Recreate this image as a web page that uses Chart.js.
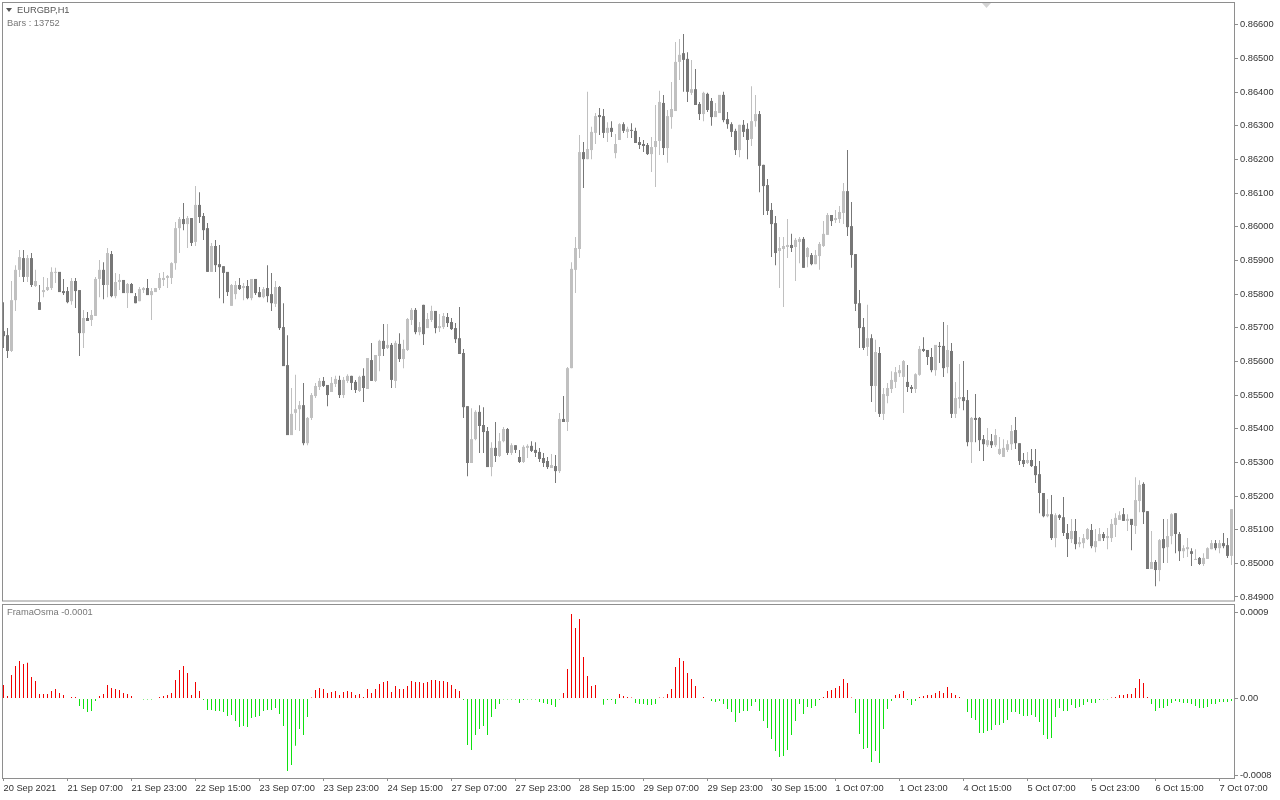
<!DOCTYPE html>
<html>
<head>
<meta charset="UTF-8">
<title>EURGBP,H1</title>
<script src="https://cdn.jsdelivr.net/npm/chart.js"></script>
<style>
  body { margin: 0; background: #ffffff; }
  #wrap { position: relative; width: 1280px; height: 800px; }
  canvas { position: absolute; left: 0; }
  #priceChart { top: 0; }
  #oscChart { top: 602px; }
</style>
</head>
<body>
<div id="wrap">
  <canvas id="priceChart" width="1280" height="602"></canvas>
  <canvas id="oscChart" width="1280" height="198"></canvas>
</div>
<script>
// EURGBP H1 candles, 20 Sep 15:00 -> 7 Oct 2021
var opens = [
0.85690,0.85678,0.85631,0.85782,0.85872,0.85907,0.85851,0.85907,0.85824,0.85776,
0.85806,0.85812,0.85818,0.85863,0.85866,0.85809,0.85809,0.85779,0.85839,0.85812,
0.85684,0.85729,0.85723,0.85735,0.85845,0.85872,0.85827,0.85919,0.85794,0.85836,
0.85842,0.85803,0.85830,0.85794,0.85779,0.85812,0.85818,0.85797,0.85806,0.85818,
0.85842,0.85848,0.85848,0.85892,0.85996,0.86023,0.86008,0.86026,0.85955,0.86065,
0.86032,0.85996,0.85866,0.85943,0.85889,0.85883,0.85866,0.85765,0.85800,0.85827,
0.85818,0.85824,0.85788,0.85845,0.85806,0.85791,0.85818,0.85800,0.85771,0.85821,
0.85702,0.85589,0.85381,0.85447,0.85458,0.85470,0.85357,0.85432,0.85497,0.85524,
0.85542,0.85530,0.85509,0.85533,0.85545,0.85500,0.85542,0.85557,0.85539,0.85512,
0.85557,0.85518,0.85604,0.85542,0.85616,0.85661,0.85640,0.85649,0.85542,0.85652,
0.85607,0.85634,0.85723,0.85753,0.85687,0.85768,0.85699,0.85723,0.85750,0.85699,
0.85702,0.85732,0.85717,0.85699,0.85669,0.85625,0.85467,0.85298,0.85369,0.85450,
0.85411,0.85393,0.85286,0.85343,0.85319,0.85363,0.85399,0.85328,0.85351,0.85316,
0.85301,0.85343,0.85349,0.85337,0.85331,0.85313,0.85304,0.85283,0.85289,0.85274,
0.85429,0.85420,0.85580,0.85872,0.85934,0.86222,0.86201,0.86228,0.86279,0.86332,
0.86329,0.86279,0.86294,0.86219,0.86258,0.86305,0.86282,0.86288,0.86285,0.86252,
0.86246,0.86243,0.86216,0.86237,0.86255,0.86368,0.86234,0.86326,0.86344,0.86490,
0.86516,0.86499,0.86398,0.86409,0.86365,0.86335,0.86395,0.86374,0.86326,0.86338,
0.86392,0.86320,0.86305,0.86285,0.86228,0.86303,0.86291,0.86261,0.86314,0.86335,
0.86184,0.86124,0.86050,0.86011,0.85928,0.85934,0.85940,0.85946,0.85940,0.85955,
0.85964,0.85910,0.85916,0.85889,0.85913,0.85943,0.85976,0.86035,0.86020,0.86023,
0.86041,0.86106,0.86002,0.85919,0.85773,0.85702,0.85643,0.85669,0.85527,0.85625,
0.85444,0.85497,0.85518,0.85539,0.85565,0.85554,0.85539,0.85524,0.85518,0.85560,
0.85637,0.85634,0.85613,0.85574,0.85646,0.85646,0.85583,0.85631,0.85444,0.85488,
0.85494,0.85485,0.85360,0.85432,0.85432,0.85369,0.85351,0.85363,0.85351,0.85325,
0.85316,0.85337,0.85354,0.85396,0.85357,0.85307,0.85298,0.85307,0.85289,0.85265,
0.85209,0.85140,0.85146,0.85075,0.85143,0.85137,0.85090,0.85072,0.85096,0.85057,
0.85060,0.85072,0.85099,0.85048,0.85066,0.85087,0.85075,0.85075,0.85114,0.85129,
0.85146,0.85126,0.85132,0.85111,0.85185,0.85236,0.85155,0.84983,0.85004,0.84980,
0.85072,0.85048,0.85081,0.85149,0.85087,0.85036,0.85042,0.85036,0.85010,0.85016,
0.84998,0.85013,0.85042,0.85060,0.85045,0.85060,0.85054,0.85022
];
var highs = [
0.85776,0.85699,0.85839,0.85886,0.85931,0.85931,0.85916,0.85922,0.85872,0.85827,
0.85851,0.85848,0.85880,0.85878,0.85866,0.85845,0.85821,0.85848,0.85848,0.85812,
0.85753,0.85747,0.85753,0.85851,0.85901,0.85895,0.85937,0.85928,0.85863,0.85860,
0.85842,0.85833,0.85833,0.85803,0.85821,0.85821,0.85845,0.85818,0.85818,0.85863,
0.85866,0.85857,0.85895,0.86014,0.86029,0.86071,0.86032,0.86026,0.86121,0.86103,
0.86041,0.86011,0.85952,0.85961,0.85946,0.85883,0.85866,0.85830,0.85839,0.85848,
0.85833,0.85842,0.85845,0.85845,0.85821,0.85821,0.85886,0.85863,0.85839,0.85824,
0.85773,0.85678,0.85521,0.85560,0.85482,0.85536,0.85435,0.85506,0.85536,0.85551,
0.85554,0.85530,0.85554,0.85557,0.85557,0.85554,0.85562,0.85557,0.85545,0.85557,
0.85580,0.85610,0.85655,0.85619,0.85664,0.85711,0.85711,0.85655,0.85661,0.85684,
0.85664,0.85729,0.85759,0.85759,0.85717,0.85768,0.85744,0.85765,0.85750,0.85741,
0.85744,0.85744,0.85729,0.85714,0.85762,0.85637,0.85467,0.85461,0.85455,0.85470,
0.85464,0.85405,0.85360,0.85420,0.85387,0.85405,0.85402,0.85357,0.85351,0.85337,
0.85351,0.85354,0.85363,0.85360,0.85343,0.85328,0.85316,0.85325,0.85322,0.85447,
0.85497,0.85583,0.85895,0.85970,0.86273,0.86252,0.86401,0.86297,0.86338,0.86353,
0.86350,0.86311,0.86314,0.86276,0.86308,0.86311,0.86297,0.86308,0.86294,0.86267,
0.86258,0.86249,0.86267,0.86362,0.86404,0.86392,0.86347,0.86430,0.86549,0.86558,
0.86573,0.86519,0.86496,0.86469,0.86371,0.86401,0.86398,0.86383,0.86368,0.86392,
0.86401,0.86341,0.86311,0.86291,0.86303,0.86317,0.86308,0.86418,0.86392,0.86344,
0.86184,0.86142,0.86071,0.86032,0.85970,0.85970,0.86023,0.85979,0.85967,0.85970,
0.85970,0.85940,0.85922,0.85931,0.85955,0.86017,0.86041,0.86035,0.86050,0.86062,
0.86130,0.86228,0.86074,0.85919,0.85812,0.85729,0.85768,0.85681,0.85664,0.85643,
0.85521,0.85536,0.85571,0.85583,0.85589,0.85604,0.85589,0.85530,0.85565,0.85646,
0.85672,0.85634,0.85640,0.85649,0.85658,0.85717,0.85708,0.85655,0.85539,0.85592,
0.85601,0.85515,0.85435,0.85503,0.85435,0.85381,0.85402,0.85384,0.85399,0.85375,
0.85369,0.85366,0.85411,0.85435,0.85357,0.85328,0.85331,0.85340,0.85340,0.85304,
0.85209,0.85191,0.85203,0.85149,0.85146,0.85197,0.85117,0.85132,0.85132,0.85078,
0.85087,0.85105,0.85117,0.85102,0.85105,0.85093,0.85105,0.85132,0.85149,0.85155,
0.85164,0.85146,0.85132,0.85256,0.85247,0.85241,0.85155,0.85096,0.85010,0.85072,
0.85132,0.85132,0.85149,0.85149,0.85093,0.85054,0.85075,0.85045,0.85042,0.85019,
0.85030,0.85048,0.85069,0.85069,0.85069,0.85090,0.85075,0.85161
];
var lows = [
0.85640,0.85610,0.85628,0.85750,0.85851,0.85836,0.85836,0.85821,0.85821,0.85753,
0.85791,0.85809,0.85812,0.85833,0.85806,0.85797,0.85773,0.85768,0.85759,0.85616,
0.85640,0.85720,0.85705,0.85735,0.85791,0.85785,0.85791,0.85791,0.85788,0.85812,
0.85803,0.85759,0.85803,0.85773,0.85779,0.85803,0.85797,0.85723,0.85806,0.85812,
0.85824,0.85818,0.85830,0.85872,0.85922,0.85990,0.85937,0.85943,0.85943,0.86011,
0.85961,0.85866,0.85866,0.85866,0.85788,0.85773,0.85794,0.85765,0.85785,0.85812,
0.85782,0.85785,0.85782,0.85797,0.85791,0.85788,0.85776,0.85750,0.85762,0.85693,
0.85586,0.85381,0.85381,0.85396,0.85393,0.85351,0.85351,0.85426,0.85491,0.85515,
0.85524,0.85467,0.85509,0.85524,0.85491,0.85491,0.85536,0.85515,0.85506,0.85509,
0.85479,0.85518,0.85542,0.85539,0.85571,0.85616,0.85637,0.85521,0.85521,0.85598,
0.85580,0.85631,0.85708,0.85681,0.85678,0.85649,0.85699,0.85717,0.85684,0.85687,
0.85696,0.85702,0.85693,0.85655,0.85622,0.85432,0.85259,0.85298,0.85366,0.85328,
0.85328,0.85286,0.85259,0.85301,0.85316,0.85360,0.85322,0.85322,0.85328,0.85298,
0.85298,0.85313,0.85331,0.85316,0.85301,0.85286,0.85280,0.85283,0.85239,0.85268,
0.85420,0.85393,0.85580,0.85803,0.85907,0.86115,0.86201,0.86201,0.86246,0.86273,
0.86264,0.86252,0.86267,0.86204,0.86258,0.86279,0.86264,0.86264,0.86249,0.86231,
0.86222,0.86213,0.86163,0.86118,0.86213,0.86213,0.86190,0.86291,0.86344,0.86436,
0.86401,0.86371,0.86392,0.86362,0.86317,0.86314,0.86341,0.86300,0.86326,0.86338,
0.86311,0.86291,0.86267,0.86213,0.86207,0.86267,0.86201,0.86240,0.86297,0.86103,
0.86035,0.86035,0.85910,0.85886,0.85818,0.85762,0.85907,0.85925,0.85839,0.85892,
0.85878,0.85880,0.85886,0.85889,0.85872,0.85940,0.85976,0.86002,0.86011,0.86011,
0.86008,0.85973,0.85878,0.85750,0.85640,0.85634,0.85616,0.85479,0.85450,0.85435,
0.85426,0.85476,0.85506,0.85521,0.85554,0.85447,0.85509,0.85506,0.85506,0.85557,
0.85628,0.85589,0.85568,0.85557,0.85595,0.85554,0.85565,0.85432,0.85432,0.85461,
0.85455,0.85348,0.85298,0.85360,0.85334,0.85304,0.85346,0.85343,0.85346,0.85322,
0.85316,0.85331,0.85337,0.85340,0.85292,0.85286,0.85295,0.85286,0.85239,0.85149,
0.85137,0.85137,0.85069,0.85048,0.85129,0.85081,0.85019,0.85060,0.85042,0.85048,
0.85045,0.85069,0.85045,0.85033,0.85066,0.85066,0.85042,0.85063,0.85078,0.85129,
0.85126,0.85096,0.85039,0.85087,0.85152,0.85117,0.84983,0.84983,0.84932,0.84947,
0.85001,0.85001,0.85057,0.85030,0.85007,0.85016,0.85019,0.84992,0.85010,0.84995,
0.84992,0.85013,0.85042,0.85039,0.85030,0.85045,0.85016,0.84995
];
var closes = [
0.85675,0.85631,0.85782,0.85872,0.85910,0.85851,0.85907,0.85827,0.85839,0.85753,
0.85812,0.85821,0.85866,0.85866,0.85806,0.85803,0.85776,0.85839,0.85809,0.85684,
0.85729,0.85720,0.85738,0.85845,0.85872,0.85827,0.85922,0.85794,0.85836,0.85842,
0.85803,0.85830,0.85803,0.85773,0.85815,0.85818,0.85797,0.85809,0.85818,0.85848,
0.85848,0.85854,0.85892,0.85996,0.86023,0.86008,0.86026,0.85952,0.86065,0.86029,
0.85990,0.85866,0.85943,0.85886,0.85880,0.85863,0.85806,0.85827,0.85827,0.85815,
0.85824,0.85788,0.85845,0.85803,0.85791,0.85815,0.85794,0.85773,0.85821,0.85699,
0.85586,0.85381,0.85444,0.85458,0.85470,0.85357,0.85432,0.85500,0.85527,0.85542,
0.85527,0.85500,0.85536,0.85548,0.85500,0.85545,0.85557,0.85536,0.85515,0.85554,
0.85521,0.85610,0.85542,0.85619,0.85661,0.85637,0.85649,0.85545,0.85655,0.85607,
0.85637,0.85726,0.85753,0.85687,0.85702,0.85681,0.85726,0.85750,0.85699,0.85705,
0.85735,0.85714,0.85696,0.85666,0.85622,0.85464,0.85298,0.85369,0.85450,0.85408,
0.85390,0.85286,0.85343,0.85319,0.85363,0.85399,0.85328,0.85351,0.85337,0.85301,
0.85346,0.85349,0.85334,0.85328,0.85310,0.85298,0.85286,0.85292,0.85274,0.85429,
0.85420,0.85580,0.85875,0.85937,0.86222,0.86201,0.86231,0.86282,0.86329,0.86326,
0.86279,0.86294,0.86282,0.86246,0.86305,0.86285,0.86291,0.86285,0.86249,0.86243,
0.86240,0.86216,0.86237,0.86255,0.86371,0.86234,0.86329,0.86350,0.86490,0.86511,
0.86496,0.86401,0.86409,0.86362,0.86335,0.86398,0.86347,0.86326,0.86344,0.86392,
0.86317,0.86305,0.86282,0.86228,0.86303,0.86282,0.86258,0.86314,0.86335,0.86181,
0.86121,0.86047,0.86008,0.85922,0.85937,0.85943,0.85946,0.85937,0.85961,0.85964,
0.85878,0.85937,0.85889,0.85916,0.85949,0.85979,0.86035,0.86017,0.86026,0.86044,
0.86106,0.85999,0.85916,0.85771,0.85699,0.85640,0.85669,0.85527,0.85628,0.85444,
0.85503,0.85521,0.85545,0.85568,0.85574,0.85601,0.85524,0.85518,0.85562,0.85637,
0.85631,0.85613,0.85574,0.85649,0.85643,0.85580,0.85634,0.85444,0.85491,0.85494,
0.85482,0.85360,0.85432,0.85426,0.85366,0.85354,0.85366,0.85351,0.85381,0.85340,
0.85343,0.85354,0.85393,0.85357,0.85304,0.85295,0.85307,0.85289,0.85262,0.85209,
0.85140,0.85146,0.85075,0.85143,0.85135,0.85090,0.85072,0.85096,0.85057,0.85063,
0.85075,0.85102,0.85051,0.85066,0.85087,0.85075,0.85081,0.85117,0.85135,0.85143,
0.85126,0.85132,0.85114,0.85188,0.85233,0.85152,0.84983,0.85004,0.84980,0.85069,
0.85045,0.85081,0.85146,0.85087,0.85036,0.85045,0.85048,0.85028,0.85013,0.84998,
0.85016,0.85045,0.85060,0.85045,0.85060,0.85051,0.85022,0.85161
];

// FramaOsma histogram, one value per bar
var osma = [
1.41e-4,0.26e-4,2.45e-4,3.39e-4,3.91e-4,3.59e-4,3.73e-4,2.24e-4,1.82e-4,0.47e-4,
0.47e-4,0.47e-4,0.78e-4,0.99e-4,0.57e-4,0.36e-4,0,0.16e-4,0.16e-4,-0.78e-4,
-1.09e-4,-1.41e-4,-1.30e-4,-0.26e-4,0.26e-4,0.47e-4,1.41e-4,1.09e-4,0.99e-4,0.89e-4,
0.57e-4,0.47e-4,0.26e-4,0,0,-0.05e-4,-0.05e-4,-0.05e-4,0,0.16e-4,
0.26e-4,0.36e-4,0.57e-4,1.93e-4,2.97e-4,3.39e-4,2.66e-4,0.36e-4,1.72e-4,0.78e-4,
-0.16e-4,-1.20e-4,-1.20e-4,-1.30e-4,-1.30e-4,-1.41e-4,-1.82e-4,-1.72e-4,-2.34e-4,-2.97e-4,
-2.86e-4,-2.97e-4,-2.03e-4,-1.93e-4,-1.82e-4,-1.30e-4,-1.20e-4,-1.20e-4,-0.99e-4,-1.61e-4,
-2.86e-4,-7.55e-4,-6.93e-4,-4.91e-4,-3.18e-4,-3.80e-4,-1.93e-4,0.09e-4,0.89e-4,1.09e-4,
0.99e-4,0.57e-4,0.68e-4,0.78e-4,0.36e-4,0.68e-4,0.78e-4,0.68e-4,0.36e-4,0.47e-4,
0.16e-4,0.99e-4,0.57e-4,0.99e-4,1.51e-4,1.72e-4,1.82e-4,0.68e-4,1.30e-4,0.99e-4,
0.99e-4,1.30e-4,1.82e-4,1.72e-4,1.72e-4,1.61e-4,1.72e-4,1.93e-4,1.93e-4,1.82e-4,
1.82e-4,1.72e-4,1.41e-4,0.99e-4,0.78e-4,-0.16e-4,-4.84e-4,-5.36e-4,-3.80e-4,-3.18e-4,
-2.86e-4,-3.80e-4,-1.93e-4,-1.09e-4,-0.57e-4,-0.09e-4,-0.09e-4,-0.09e-4,-0.09e-4,-0.47e-4,
-0.16e-4,-0.09e-4,-0.09e-4,-0.09e-4,-0.36e-4,-0.47e-4,-0.57e-4,-0.68e-4,-0.89e-4,-0.09e-4,
0.57e-4,3.07e-4,8.80e-4,7.34e-4,8.28e-4,4.32e-4,2.34e-4,1.30e-4,1.41e-4,0,
-0.64e-4,-0.16e-4,-0.16e-4,-0.57e-4,0.47e-4,0.26e-4,0.16e-4,0.05e-4,-0.47e-4,-0.57e-4,
-0.57e-4,-0.68e-4,-0.68e-4,-0.57e-4,0.05e-4,0.05e-4,0.47e-4,0.99e-4,3.28e-4,4.22e-4,
3.91e-4,2.66e-4,2.03e-4,1.30e-4,0,0.16e-4,0,-0.26e-4,-0.36e-4,-0.26e-4,
-0.57e-4,-1.09e-4,-1.41e-4,-2.45e-4,-1.51e-4,-1.30e-4,-1.30e-4,-0.78e-4,-0.36e-4,-1.30e-4,
-2.34e-4,-3.07e-4,-4.22e-4,-5.47e-4,-6.09e-4,-5.99e-4,-5.36e-4,-3.80e-4,-2.34e-4,-0.57e-4,
-1.61e-4,-0.89e-4,-0.99e-4,-0.78e-4,-0.16e-4,0.16e-4,0.78e-4,0.89e-4,1.09e-4,1.30e-4,
2.03e-4,1.61e-4,0.05e-4,-1.51e-4,-3.70e-4,-5.26e-4,-5.16e-4,-6.61e-4,-5.47e-4,-6.72e-4,
-3.18e-4,-1.09e-4,-0.26e-4,0.36e-4,0.47e-4,0.78e-4,-0.16e-4,-0.68e-4,-0.26e-4,0.16e-4,
0.26e-4,0.36e-4,0.36e-4,0.57e-4,0.78e-4,0.57e-4,1.20e-4,0.57e-4,0.36e-4,0.16e-4,
0,-1.41e-4,-2.03e-4,-2.24e-4,-3.59e-4,-3.59e-4,-3.39e-4,-3.28e-4,-2.76e-4,-2.76e-4,
-2.55e-4,-2.24e-4,-1.41e-4,-1.41e-4,-1.61e-4,-1.82e-4,-1.82e-4,-1.72e-4,-1.93e-4,-2.45e-4,
-3.80e-4,-4.22e-4,-4.11e-4,-1.93e-4,-0.99e-4,-1.30e-4,-1.30e-4,-0.68e-4,-0.99e-4,-0.89e-4,
-0.68e-4,-0.36e-4,-0.47e-4,-0.47e-4,-0.16e-4,-0.09e-4,-0.05e-4,0.05e-4,0.16e-4,0.36e-4,
0.36e-4,0.47e-4,0.47e-4,1.09e-4,2.03e-4,1.61e-4,0.16e-4,-0.57e-4,-1.30e-4,-0.99e-4,
-0.99e-4,-0.78e-4,-0.47e-4,-0.26e-4,-0.36e-4,-0.47e-4,-0.47e-4,-0.57e-4,-0.78e-4,-0.99e-4,
-0.99e-4,-0.89e-4,-0.57e-4,-0.57e-4,-0.36e-4,-0.36e-4,-0.36e-4,-0.26e-4
];

// axis ticks
var priceTicks = [0.849,0.850,0.851,0.852,0.853,0.854,0.855,0.856,0.857,0.858,
                  0.859,0.860,0.861,0.862,0.863,0.864,0.865,0.866];
var osmaTicks = [0.0009, 0, -0.0008];
var osmaTickLabels = ['0.0009', '0.00', '-0.0008'];
var timeTickBars = [0,16,32,48,64,80,96,112,128,144,160,176,192,208,224,240,256,272,288,304];
var timeLabels = ['20 Sep 2021','21 Sep 07:00','21 Sep 23:00','22 Sep 15:00','23 Sep 07:00',
                  '23 Sep 23:00','24 Sep 15:00','27 Sep 07:00','27 Sep 23:00','28 Sep 15:00',
                  '29 Sep 07:00','29 Sep 23:00','30 Sep 15:00','1 Oct 07:00','1 Oct 23:00',
                  '4 Oct 15:00','5 Oct 07:00','5 Oct 23:00','6 Oct 15:00','7 Oct 07:00'];

var upColor = '#c0c0c0';
var downColor = '#777777';
var axisFont = { family: 'Liberation Sans', size: 9.3 };
var textColor = '#333333';
var frameColor = '#8e8e8e';

Chart.defaults.animation = false;
Chart.defaults.events = [];
Chart.defaults.font.family = 'Liberation Sans';

function candleColor(c) {
    var i = c.dataIndex;
    return closes[i] >= opens[i] ? upColor : downColor;
}

var xMin = -0.375, xMax = 307.875;

function fixYAxis(scale) {
    scale.width = 45;
    scale.paddingTop = 0;
    scale.paddingBottom = 0;
}

// frame + captions of the price pane
var priceFrame = {
    id: 'priceFrame',
    afterDraw: function(chart) {
        var ctx = chart.ctx, a = chart.chartArea;
        ctx.save();
        ctx.strokeStyle = frameColor;
        ctx.lineWidth = 1;
        ctx.strokeRect(a.left + 0.5, a.top + 0.5, a.right - a.left - 1, a.bottom - a.top - 0.5);
        // small down triangle before the symbol
        ctx.fillStyle = '#555';
        ctx.beginPath();
        ctx.moveTo(6, 8); ctx.lineTo(12, 8); ctx.lineTo(9, 12); ctx.closePath();
        ctx.fill();
        ctx.font = '9.3px "Liberation Sans"';
        ctx.textBaseline = 'middle';
        ctx.fillStyle = '#555';
        ctx.fillText('EURGBP,H1', 17, 10);
        ctx.fillStyle = '#777';
        ctx.fillText('Bars : 13752', 7, 23);
        // chart shift marker
        ctx.fillStyle = '#d4d4d4';
        ctx.beginPath();
        ctx.moveTo(982, 3); ctx.lineTo(991, 3); ctx.lineTo(986.5, 8); ctx.closePath();
        ctx.fill();
        ctx.restore();
    }
};

var oscFrame = {
    id: 'oscFrame',
    afterDraw: function(chart) {
        var ctx = chart.ctx, a = chart.chartArea;
        ctx.save();
        ctx.strokeStyle = frameColor;
        ctx.lineWidth = 1;
        ctx.strokeRect(a.left + 0.5, a.top + 0.5, a.right - a.left - 1, a.bottom - a.top);
        ctx.font = '9.3px "Liberation Sans"';
        ctx.textBaseline = 'middle';
        ctx.fillStyle = '#777';
        ctx.fillText('FramaOsma -0.0001', 7, 10);
        ctx.restore();
    }
};

new Chart(document.getElementById('priceChart'), {
    type: 'bar',
    data: {
        datasets: [{
            label: 'body',
            data: opens.map(function(o, i) { return { x: i, y: [o, closes[i]] }; }),
            backgroundColor: candleColor,
            barThickness: 3,
            minBarLength: 1,
            inflateAmount: 0,
            grouped: false
        }, {
            label: 'wick',
            data: lows.map(function(l, i) { return { x: i, y: [l, highs[i]] }; }),
            backgroundColor: candleColor,
            barThickness: 1,
            minBarLength: 1,
            inflateAmount: 0,
            grouped: false
        }]
    },
    options: {
        responsive: false,
        layout: { padding: { left: 2, top: 2, right: 0, bottom: 1 } },
        plugins: { legend: { display: false }, tooltip: { enabled: false } },
        scales: {
            x: { type: 'linear', min: xMin, max: xMax, offset: false, display: false },
            y: {
                type: 'linear',
                position: 'right',
                min: 0.84888,
                max: 0.86668,
                afterBuildTicks: function(scale) {
                    scale.ticks = priceTicks.map(function(v) { return { value: v }; });
                },
                afterFit: fixYAxis,
                border: { display: false },
                grid: { drawOnChartArea: false, tickLength: 3, color: frameColor },
                ticks: {
                    padding: 2,
                    color: textColor,
                    font: axisFont,
                    callback: function(v) { return v.toFixed(5); }
                }
            }
        }
    },
    plugins: [priceFrame]
});

new Chart(document.getElementById('oscChart'), {
    type: 'bar',
    data: {
        datasets: [{
            label: 'FramaOsma',
            data: osma.map(function(v, i) { return { x: i, y: v }; }),
            backgroundColor: function(c) {
                var v = osma[c.dataIndex];
                return v > 0 ? '#f00000' : (v < 0 ? '#10e010' : 'rgba(0,0,0,0)');
            },
            barThickness: 1,
            minBarLength: 1,
            inflateAmount: 0,
            grouped: false
        }]
    },
    options: {
        responsive: false,
        layout: { padding: { left: 2, top: 2, right: 0, bottom: 0 } },
        plugins: { legend: { display: false }, tooltip: { enabled: false } },
        scales: {
            x: {
                type: 'linear',
                min: xMin,
                max: xMax,
                offset: false,
                afterBuildTicks: function(scale) {
                    scale.ticks = timeTickBars.map(function(v) { return { value: v }; });
                },
                afterFit: function(scale) {
                    scale.height = 22;
                    scale.paddingLeft = 0;
                    scale.paddingRight = 0;
                },
                border: { display: false },
                grid: { offset: false, drawOnChartArea: false, tickLength: 3, color: frameColor },
                ticks: {
                    align: 'start',
                    padding: 2,
                    maxRotation: 0,
                    autoSkip: false,
                    color: textColor,
                    font: axisFont,
                    callback: function(v, idx) { return timeLabels[idx]; }
                }
            },
            y: {
                type: 'linear',
                position: 'right',
                min: -0.000828,
                max: 0.000984,
                afterBuildTicks: function(scale) {
                    scale.ticks = osmaTicks.map(function(v) { return { value: v }; });
                },
                afterFit: fixYAxis,
                border: { display: false },
                grid: { drawOnChartArea: false, tickLength: 3, color: frameColor },
                ticks: {
                    padding: 2,
                    color: textColor,
                    font: axisFont,
                    callback: function(v, idx) { return osmaTickLabels[idx]; }
                }
            }
        }
    },
    plugins: [oscFrame]
});
</script>
</body>
</html>
